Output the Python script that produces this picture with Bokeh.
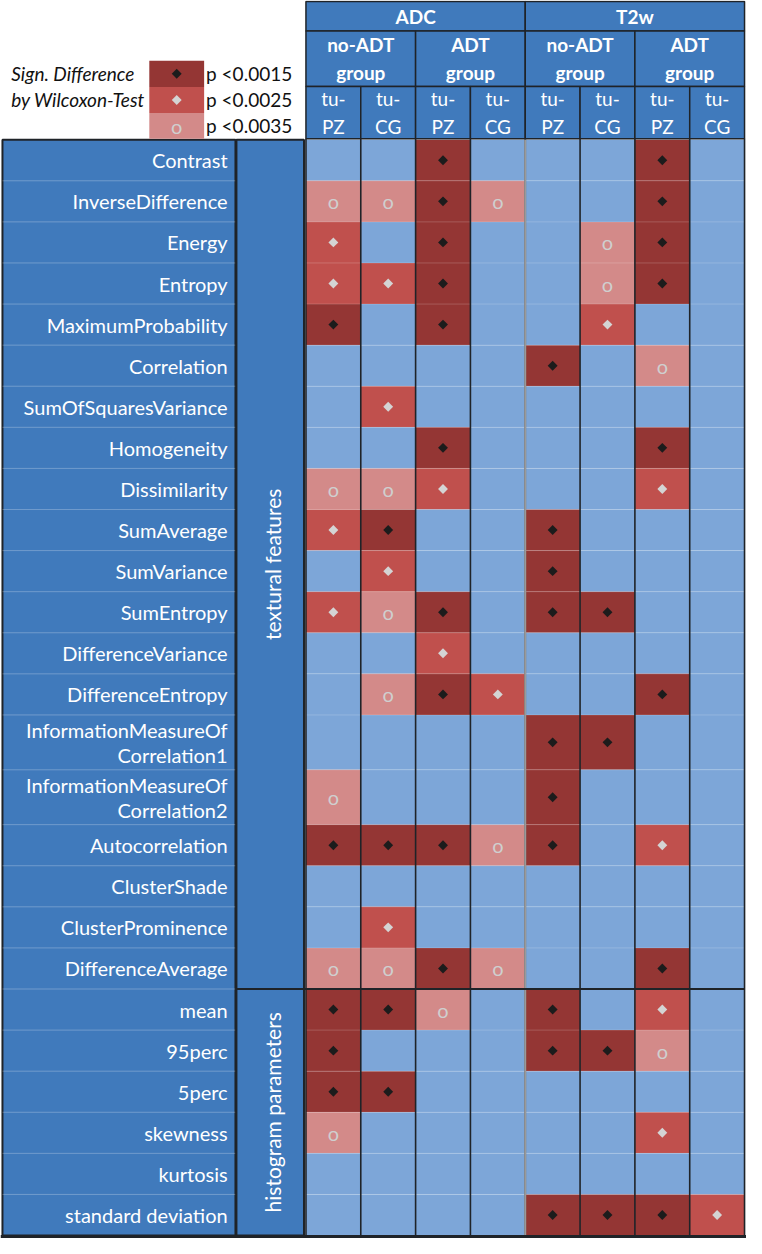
from math import pi
from bokeh.plotting import figure
from bokeh.models import Range1d
from bokeh.embed import file_html
from bokeh.resources import INLINE
from bokeh.core.properties import value

# ---------------- data ----------------
features = ["Contrast", "InverseDifference", "Energy", "Entropy", "MaximumProbability",
            "Correlation", "SumOfSquaresVariance", "Homogeneity", "Dissimilarity",
            "SumAverage", "SumVariance", "SumEntropy", "DifferenceVariance",
            "DifferenceEntropy", "InformationMeasureOf\nCorrelation1",
            "InformationMeasureOf\nCorrelation2", "Autocorrelation", "ClusterShade",
            "ClusterProminence", "DifferenceAverage", "mean", "95perc", "5perc",
            "skewness", "kurtosis", "standard deviation"]
feature_groups = ["textural features", "histogram parameters"]
group_sizes = [20, 6]

modalities = ["ADC", "T2w"]
therapy_groups = ["no-ADT\ngroup", "ADT\ngroup"]
zones = ["tu-\nPZ", "tu-\nCG"]

legend_title = ["Sign. Difference", "by Wilcoxon-Test"]
levels = [1, 2, 3]
level_labels = ["p <0.0015", "p <0.0025", "p <0.0035"]

# significance level per feature (0 = n.s., 1 = p<0.0015, 2 = p<0.0025, 3 = p<0.0035)
adc_noadt_pz = [0, 3, 2, 2, 1, 0, 0, 0, 3, 2, 0, 2, 0, 0, 0, 3, 1, 0, 0, 3, 1, 1, 1, 3, 0, 0]
adc_noadt_cg = [0, 3, 0, 2, 0, 0, 2, 0, 3, 1, 2, 3, 0, 3, 0, 0, 1, 0, 2, 3, 1, 0, 1, 0, 0, 0]
adc_adt_pz = [1, 1, 1, 1, 1, 0, 0, 1, 2, 0, 0, 1, 2, 1, 0, 0, 1, 0, 0, 1, 3, 0, 0, 0, 0, 0]
adc_adt_cg = [0, 3, 0, 0, 0, 0, 0, 0, 0, 0, 0, 0, 0, 2, 0, 0, 3, 0, 0, 3, 0, 0, 0, 0, 0, 0]
t2w_noadt_pz = [0, 0, 0, 0, 0, 1, 0, 0, 0, 1, 1, 1, 0, 0, 1, 1, 1, 0, 0, 0, 1, 1, 0, 0, 0, 1]
t2w_noadt_cg = [0, 0, 3, 3, 2, 0, 0, 0, 0, 0, 0, 1, 0, 0, 1, 0, 0, 0, 0, 0, 0, 1, 0, 0, 0, 1]
t2w_adt_pz = [1, 1, 1, 1, 0, 3, 0, 1, 2, 0, 0, 0, 0, 1, 0, 0, 2, 0, 0, 1, 2, 3, 0, 2, 0, 1]
t2w_adt_cg = [0, 0, 0, 0, 0, 0, 0, 0, 0, 0, 0, 0, 0, 0, 0, 0, 0, 0, 0, 0, 0, 0, 0, 0, 0, 2]
columns = [adc_noadt_pz, adc_noadt_cg, adc_adt_pz, adc_adt_cg,
           t2w_noadt_pz, t2w_noadt_cg, t2w_adt_pz, t2w_adt_cg]

# ---------------- style / layout ----------------
FONT = "Lato"
HDR_BLUE = "#407ABC"
CELL_BLUE = "#7DA6D8"
LEVEL_COLORS = {0: CELL_BLUE, 1: "#943634", 2: "#C0504D", 3: "#D38A89"}
DARK = "#1f2328"

X_LAB0, X_LAB1 = 2, 240
X_GRP0, X_GRP1 = 241, 310
X_DAT0, COL_W = 312, 56
Y_HDR = [1, 31, 87, 140]
Y_DAT0, Y_DAT1 = 141, 1251

weights = [1.335 if "\n" in f else 1.0 for f in features]
unit = (Y_DAT1 - Y_DAT0) / sum(weights)
row_top, row_bot = [], []
acc = Y_DAT0
for w in weights:
    row_top.append(acc)
    acc += w * unit
    row_bot.append(acc)
row_mid = [(a + b) / 2 for a, b in zip(row_top, row_bot)]

p = figure(width=746, height=1238, x_range=Range1d(0, 762), y_range=Range1d(1254, 0),
           output_backend="svg", toolbar_location=None, min_border=0,
           x_axis_location=None, y_axis_location=None)
p.grid.visible = False
p.outline_line_color = None
p.background_fill_color = "white"
p.border_fill_color = "white"

# ---------------- left label panel ----------------
p.quad(left=[X_LAB0], right=[X_LAB1], top=[Y_DAT0], bottom=[Y_DAT1],
       fill_color=HDR_BLUE, line_color=DARK, line_width=2)
p.segment(x0=[X_LAB0] * 25, x1=[X_LAB1] * 25, y0=row_bot[:-1], y1=row_bot[:-1],
          line_color="white", line_alpha=0.25, line_width=1)
p.text(x=[X_LAB1 - 8] * len(features), y=row_mid, text=features,
       text_font=value(FONT), text_font_size="20px", text_color="white",
       text_align="right", text_baseline="middle", text_line_height=1.05)

# group column
g_top, g_bot = [], []
start = 0
for n in group_sizes:
    g_top.append(row_top[start])
    g_bot.append(row_bot[start + n - 1])
    start += n
g_mid = [(a + b) / 2 for a, b in zip(g_top, g_bot)]
p.quad(left=[X_GRP0] * 2, right=[X_GRP1] * 2, top=g_top, bottom=g_bot,
       fill_color=HDR_BLUE, line_color=DARK, line_width=2)
p.text(x=[(X_GRP0 + X_GRP1) / 2 + 2] * 2, y=g_mid, text=feature_groups, angle=pi / 2,
       text_font=value(FONT), text_font_size="21px", text_color="white",
       text_align="center", text_baseline="middle")

# ---------------- data cells ----------------
cl, cr, ct, cb, cc, mx, my, lv = [], [], [], [], [], [], [], []
for j, col in enumerate(columns):
    for i, v in enumerate(col):
        cl.append(X_DAT0 + j * COL_W)
        cr.append(X_DAT0 + (j + 1) * COL_W)
        ct.append(row_top[i])
        cb.append(row_bot[i])
        cc.append(LEVEL_COLORS[v])
        mx.append(X_DAT0 + (j + 0.5) * COL_W)
        my.append(row_mid[i])
        lv.append(v)
p.quad(left=cl, right=cr, top=ct, bottom=cb, fill_color=cc, line_color=None)

# faint row separators
p.segment(x0=[X_DAT0] * 25, x1=[X_DAT0 + 8 * COL_W] * 25, y0=row_bot[:-1], y1=row_bot[:-1],
          line_color="white", line_alpha=0.18, line_width=1)
# vertical column separators
vx = [X_DAT0 + k * COL_W for k in range(9)]
p.segment(x0=vx, x1=vx, y0=[Y_HDR[3]] * 9, y1=[Y_DAT1] * 9, line_color=DARK, line_width=1.6)
p.segment(x0=[X_DAT0 + 4 * COL_W], x1=[X_DAT0 + 4 * COL_W], y0=[Y_HDR[3]], y1=[Y_DAT1],
          line_color="#9a9a9a", line_width=2)
# group boundary
p.segment(x0=[X_GRP0], x1=[X_DAT0 + 8 * COL_W], y0=[g_bot[0]], y1=[g_bot[0]],
          line_color=DARK, line_width=2)
p.segment(x0=[0], x1=[762], y0=[Y_DAT1 + 1], y1=[Y_DAT1 + 1], line_color=DARK, line_width=3)


def draw_markers(xs, ys, ls):
    x1 = [x for x, l in zip(xs, ls) if l == 1]
    y1 = [y for y, l in zip(ys, ls) if l == 1]
    x2 = [x for x, l in zip(xs, ls) if l == 2]
    y2 = [y for y, l in zip(ys, ls) if l == 2]
    x3 = [x for x, l in zip(xs, ls) if l == 3]
    y3 = [y for y, l in zip(ys, ls) if l == 3]
    p.scatter(x=x1, y=y1, marker="square", angle=pi / 4, size=7, fill_color="#1c1c1c",
              line_color=None)
    p.scatter(x=x2, y=y2, marker="square", angle=pi / 4, size=7, fill_color="#d4d4d4",
              line_color=None)
    p.text(x=x3, y=y3, text=["o"] * len(x3), text_font=value(FONT),
           text_font_size="20px", text_color="#cfcfcf", text_align="center",
           text_baseline="middle")


draw_markers(mx, my, lv)

# ---------------- header ----------------
m_left = [X_DAT0 + m * 4 * COL_W for m in range(len(modalities))]
m_right = [x + 4 * COL_W for x in m_left]
p.quad(left=m_left, right=m_right, top=[Y_HDR[0]] * 2, bottom=[Y_HDR[1]] * 2,
       fill_color=HDR_BLUE, line_color=DARK, line_width=1.5)
p.text(x=[(a + b) / 2 for a, b in zip(m_left, m_right)], y=[(Y_HDR[0] + Y_HDR[1]) / 2] * 2,
       text=modalities, text_font=value(FONT), text_font_style="bold", text_font_size="19px",
       text_color="white", text_align="center", text_baseline="middle")
g_left = [X_DAT0 + k * 2 * COL_W for k in range(4)]
g_right = [x + 2 * COL_W for x in g_left]
p.quad(left=g_left, right=g_right, top=[Y_HDR[1]] * 4, bottom=[Y_HDR[2]] * 4,
       fill_color=HDR_BLUE, line_color=DARK, line_width=1.5)
p.text(x=[(a + b) / 2 for a, b in zip(g_left, g_right)], y=[(Y_HDR[1] + Y_HDR[2]) / 2] * 4,
       text=therapy_groups * 2, text_font=value(FONT), text_font_style="bold",
       text_font_size="19px", text_color="white", text_align="center",
       text_baseline="middle", text_line_height=1.2)
z_left = [X_DAT0 + k * COL_W for k in range(8)]
z_right = [x + COL_W for x in z_left]
p.quad(left=z_left, right=z_right, top=[Y_HDR[2]] * 8, bottom=[Y_HDR[3]] * 8,
       fill_color=HDR_BLUE, line_color=DARK, line_width=1.5)
p.text(x=[(a + b) / 2 for a, b in zip(z_left, z_right)], y=[(Y_HDR[2] + Y_HDR[3]) / 2] * 8,
       text=zones * 4, text_font=value(FONT), text_font_size="19px", text_color="white",
       text_align="center", text_baseline="middle", text_line_height=1.2)

# ---------------- legend ----------------
sw_top = [61, 87.5, 114]
sw_bot = [87.5, 114, 140]
p.quad(left=[152] * 3, right=[208] * 3, top=sw_top, bottom=sw_bot,
       fill_color=[LEVEL_COLORS[l] for l in levels], line_color=None)
ly = [(a + b) / 2 for a, b in zip(sw_top, sw_bot)]
draw_markers([180] * 3, ly, levels)
p.text(x=[210] * 3, y=ly, text=level_labels, text_font=value(FONT), text_font_size="19px",
       text_color="#111111", text_align="left", text_baseline="middle")
p.text(x=[11] * 2, y=ly[:2], text=legend_title, text_font=value(FONT),
       text_font_style="italic", text_font_size="19px", text_color="#111111",
       text_align="left", text_baseline="middle")

open("out.html", "w").write(file_html(p, INLINE))
